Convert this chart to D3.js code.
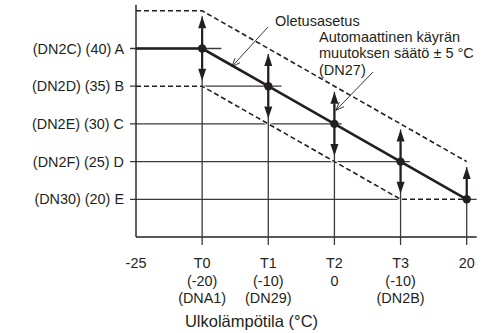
<!DOCTYPE html>
<html>
<head>
<meta charset="utf-8">
<script src="https://cdn.jsdelivr.net/npm/d3@7"></script>
<style>
  html, body { margin: 0; padding: 0; background: #fff; }
  svg { display: block; }
  text { font-family: "Liberation Sans", Arial, sans-serif; fill: #231f20; }
</style>
</head>
<body>
<svg id="chart" width="492" height="333"></svg>
<script>
// Outdoor temperature positions along the x axis
const categories = ["-25", "T0", "T1", "T2", "T3", "20"];
const tickRow1 = ["-25", "T0", "T1", "T2", "T3", "20"];
const tickRow2 = ["", "(-20)", "(-10)", "0", "(-10)", ""];
const tickRow3 = ["", "(DNA1)", "(DN29)", "", "(DN2B)", ""];

// Water temperature levels on the y axis
const levelValues = [40, 35, 30, 25, 20];
const levelLabels = ["(DN2C) (40) A", "(DN2D) (35) B", "(DN2E) (30) C", "(DN2F) (25) D", "(DN30) (20) E"];
// How far past each level's own breakpoint the gridline runs (in x steps)
const levelReach = [1.29, 2.2, 3.11, 4.14, 5.15];

// Default curve and the ±5 °C automatic shift band
const defaultCurve = [40, 40, 35, 30, 25, 20];
const upperCurve = [45, 45, 40, 35, 30, 25];
const lowerCurve = [35, 35, 30, 25, 20, 20];

const axisTitle = "Ulkolämpötila (°C)";
const noteDefault = "Oletusasetus";
const noteShift = ["Automaattinen käyrän", "muutoksen säätö ± 5 °C", "(DN27)"];

const svg = d3.select("#chart");
const ink = "#231f20";
const gridInk = "#3a3a3a";

const x = d3.scalePoint().domain(d3.range(categories.length)).range([136, 466.7]);
const step = x.step();
const xf = v => x(0) + v * step;          // fractional position along x
const y = d3.scaleLinear().domain([20, 40]).range([199.3, 48.5]);
const yBottom = 15, yTop = 45.8;

const line = d3.line().x((d, i) => x(i)).y(d => y(d));

// Horizontal gridlines at each level (with a short tick left of the axis)
levelValues.forEach((v, i) => {
  svg.append("line")
    .attr("x1", x(0) - 6).attr("x2", xf(levelReach[i]))
    .attr("y1", y(v)).attr("y2", y(v))
    .attr("stroke", gridInk).attr("stroke-width", 1.3);
});

// Shift band boundaries (dashed, knocked out of the gridlines)
[upperCurve, lowerCurve].forEach(c => {
  svg.append("path").attr("d", line(c)).attr("fill", "none")
    .attr("stroke", "#fff").attr("stroke-width", 3);
  svg.append("path").attr("d", line(c)).attr("fill", "none")
    .attr("stroke", ink).attr("stroke-width", 1.6)
    .attr("stroke-dasharray", "5,3");
});

// Axes
svg.append("line")
  .attr("x1", x(0)).attr("x2", x(0))
  .attr("y1", y(yTop)).attr("y2", y(yBottom))
  .attr("stroke", ink).attr("stroke-width", 1.4);
svg.append("line")
  .attr("x1", x(0)).attr("x2", xf(5.15))
  .attr("y1", y(yBottom)).attr("y2", y(yBottom))
  .attr("stroke", ink).attr("stroke-width", 1.4);

// Vertical gridlines at each breakpoint, running down past the axis
const arrowGap = 5.5;
d3.range(1, categories.length).forEach(i => {
  svg.append("line")
    .attr("x1", x(i)).attr("x2", x(i))
    .attr("y1", y(upperCurve[i]) + arrowGap).attr("y2", y(yBottom) + 8)
    .attr("stroke", gridInk).attr("stroke-width", 1.3);
});

// Default heating curve
svg.append("path").attr("d", line(defaultCurve)).attr("fill", "none")
  .attr("stroke", ink).attr("stroke-width", 2.6).attr("stroke-linejoin", "round");

// Double-headed shift arrows at each breakpoint
const headLen = 12, headHalf = 4;
function arrow(xp, yFrom, yTo) {
  const dir = Math.sign(yTo - yFrom);
  const tip = yTo - dir * arrowGap;
  const base = tip - dir * headLen;
  svg.append("line").attr("x1", xp).attr("x2", xp)
    .attr("y1", yFrom).attr("y2", base)
    .attr("stroke", ink).attr("stroke-width", 2.2);
  svg.append("path")
    .attr("d", `M${xp},${tip}L${xp - headHalf},${base}L${xp + headHalf},${base}Z`)
    .attr("fill", ink);
}
d3.range(1, categories.length).forEach(i => {
  const yp = y(defaultCurve[i]);
  if (upperCurve[i] > defaultCurve[i]) arrow(x(i), yp, y(upperCurve[i]));
  if (lowerCurve[i] < defaultCurve[i]) arrow(x(i), yp, y(lowerCurve[i]));
});

// Breakpoint markers
svg.selectAll("circle.pt").data(defaultCurve.slice(1)).join("circle")
  .attr("class", "pt")
  .attr("cx", (d, i) => x(i + 1)).attr("cy", d => y(d)).attr("r", 4.2)
  .attr("fill", ink);

// Y labels
svg.selectAll("text.ylab").data(levelLabels).join("text")
  .attr("class", "ylab")
  .attr("x", 124).attr("y", (d, i) => y(levelValues[i]))
  .attr("dy", "0.36em").attr("text-anchor", "end")
  .style("font-size", "14.4px").text(d => d);

// X labels (up to three rows per tick)
[tickRow1, tickRow2, tickRow3].forEach((row, r) => {
  svg.selectAll("text.xr" + r).data(row).join("text")
    .attr("class", "xr" + r)
    .attr("x", (d, i) => x(i)).attr("y", 268 + r * 17.7)
    .attr("text-anchor", "middle")
    .style("font-size", "14.4px").text(d => d);
});

svg.append("text").attr("x", 251.5).attr("y", 327)
  .attr("text-anchor", "middle").style("font-size", "16.5px").text(axisTitle);

// Callouts with open arrowheads
function leader(x1, y1, x2, y2) {
  const ang = Math.atan2(y2 - y1, x2 - x1);
  const L = 9, spread = 0.38;
  svg.append("line").attr("x1", x1).attr("y1", y1).attr("x2", x2).attr("y2", y2)
    .attr("stroke", ink).attr("stroke-width", 0.9);
  [-spread, spread].forEach(s => {
    svg.append("line").attr("x1", x2).attr("y1", y2)
      .attr("x2", x2 - L * Math.cos(ang + s)).attr("y2", y2 - L * Math.sin(ang + s))
      .attr("stroke", ink).attr("stroke-width", 0.9);
  });
}
svg.append("text").attr("x", 275).attr("y", 25.5)
  .style("font-size", "14.5px").text(noteDefault);
leader(268, 27, xf(1.45), y(37.6));

noteShift.forEach((t, i) => {
  svg.append("text").attr("x", 319).attr("y", 41.5 + i * 16.5)
    .style("font-size", "14.5px").text(t);
});
leader(373, 72, x(3) + 1.5, y(31.8));
</script>
</body>
</html>
